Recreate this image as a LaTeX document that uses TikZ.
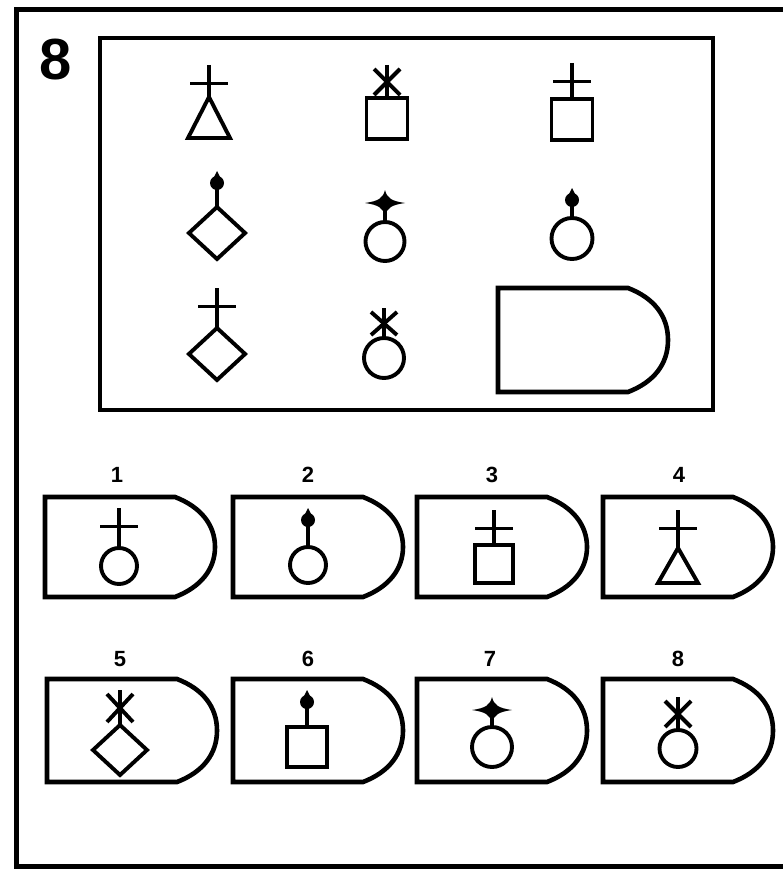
\documentclass[tikz,border=0pt]{standalone}
\usepackage{fontspec}
\setmainfont{Liberation Sans}
\tikzset{
  frm/.style={line width=4.6pt, line join=miter},
  sym/.style={line width=3.9pt, line join=miter},
  lbl/.style={font=\bfseries\fontsize{22}{22}\selectfont, inner sep=0pt},
}
% base shapes: cx, top, size
\newcommand\bCirc[3]{\draw[sym] (#1,{#2+#3/2}) circle ({#3/2});}
\newcommand\bSq[3]{\draw[sym] ({#1-#3/2},#2) rectangle ({#1+#3/2},{#2+#3});}
\newcommand\bTri[4]{\draw[sym] (#1,#2) -- ({#1+#3/2},{#2+#4}) -- ({#1-#3/2},{#2+#4}) -- cycle;}
\newcommand\bDia[3]{\draw[sym] (#1,#2) -- ({#1+0.54*#3},{#2+0.5*#3}) -- (#1,{#2+#3}) -- ({#1-0.54*#3},{#2+0.5*#3}) -- cycle;}
% top marks: cx, top, base top
\newcommand\tCross[3]{\draw[sym] (#1,#2) -- (#1,#3); \draw[sym] ({#1-19},{#2+18.5}) -- ({#1+19},{#2+18.5});}
\newcommand\tAst[3]{\draw[sym] (#1,#2) -- (#1,#3);
  \draw[sym] ({#1-13},{#2+4}) -- ({#1+13},{#3-3});
  \draw[sym] ({#1+13},{#2+4}) -- ({#1-13},{#3-3});}
% dot: cx, dot centre, base top
\newcommand\tDot[3]{\draw[sym] (#1,#2) -- (#1,#3);
  \fill (#1,#2) circle (7);
  \fill ({#1-4.5},{#2-3}) -- (#1,{#2-12}) -- ({#1+4.5},{#2-3}) -- cycle;}
% star: cx, centre, base top
\newcommand\tStar[3]{\draw[sym] (#1,#2) -- (#1,#3);
  \fill ({#1-20},#2) .. controls ({#1-6},{#2-2}) and ({#1-2},{#2-5}) .. (#1,{#2-13})
     .. controls ({#1+2},{#2-5}) and ({#1+6},{#2-2}) .. ({#1+20},#2)
     .. controls ({#1+6},{#2+2}) and ({#1+2},{#2+5}) .. (#1,{#2+13})
     .. controls ({#1-2},{#2+5}) and ({#1-6},{#2+2}) .. cycle;
  \fill (#1,#2) circle (5);}
% shield: x0, top, bottom
\newcommand\shield[3]{\draw[frm] (#1,#2) -- ({#1+130},#2)
  .. controls ({#1+156},{#2+10}) and ({#1+170},{#2+28}) .. ({#1+170},{(#2+#3)/2})
  .. controls ({#1+170},{#3-28}) and ({#1+156},{#3-10}) .. ({#1+130},#3)
  -- (#1,#3) -- cycle;}
\begin{document}
\begin{tikzpicture}[x=1pt,y=-1pt]
\useasboundingbox (0,0) rectangle (783,869);
% outer frame (open on the right)
\draw[line width=5pt] (783,10) -- (16,10) -- (16,866.5) -- (783,866.5);
\node[font=\bfseries\fontsize{58}{58}\selectfont, inner sep=0pt] (num) at (56,60) {8};
% matrix box
\draw[frm] (100,38) rectangle (713,410);
% row 1
\tCross{209}{65}{97}\bTri{209}{97}{42}{41}
\tAst{387}{65}{98}\bSq{387}{98}{41}
\tCross{572}{63}{99}\bSq{572}{99}{41}
% row 2
\tDot{217}{183}{207}\bDia{217}{207}{52}
\tStar{385}{203}{222}\bCirc{385}{222}{39}
\tDot{572}{200}{218}\bCirc{572}{218}{41}
% row 3
\tCross{217}{288}{328}\bDia{217}{328}{52}
\tAst{384}{308}{338}\bCirc{384}{338}{40}
\shield{498}{288}{392}
% options row 1
\shield{45}{497}{597}
\shield{233}{497}{597}
\shield{417}{497}{597}
\shield{603}{497}{597}
\node[lbl] (l1) at (117,475) {1};
\node[lbl] (l2) at (308,475) {2};
\node[lbl] (l3) at (492,475) {3};
\node[lbl] (l4) at (679,475) {4};
\tCross{119}{508}{548}\bCirc{119}{548}{36}
\tDot{308}{520}{547}\bCirc{308}{547}{36}
\tCross{494}{510}{545}\bSq{494}{545}{38}
\tCross{678}{510}{548}\bTri{678}{548}{40}{35}
% options row 2
\shield{47}{679}{782}
\shield{233}{679}{782}
\shield{417}{679}{782}
\shield{603}{679}{782}
\node[lbl] (l5) at (120,659) {5};
\node[lbl] (l6) at (308,659) {6};
\node[lbl] (l7) at (490,659) {7};
\node[lbl] (l8) at (678,659) {8};
\tAst{120}{690}{725}\bDia{120}{725}{50}
\tDot{307}{702}{727}\bSq{307}{727}{40}
\tStar{492}{710}{727}\bCirc{492}{727}{40}
\tAst{678}{697}{730}\bCirc{678}{730}{37}
\end{tikzpicture}
\end{document}
